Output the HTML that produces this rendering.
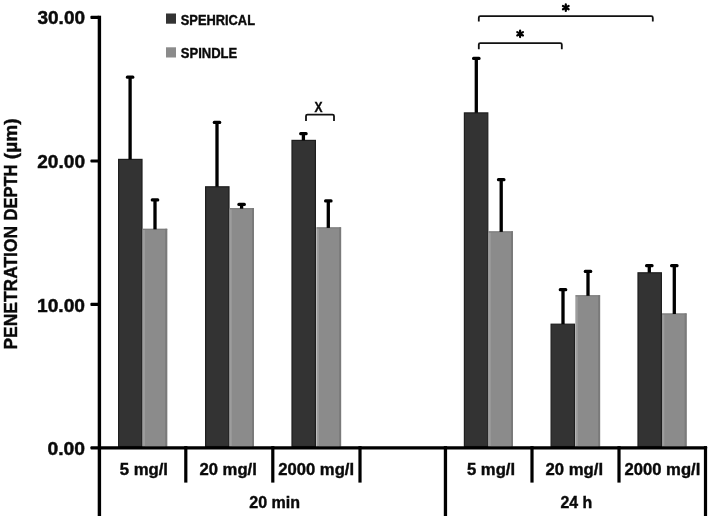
<!DOCTYPE html><html><head><meta charset="utf-8"><title>Penetration depth chart</title><style>html,body{margin:0;padding:0;background:#fff;width:709px;height:516px;overflow:hidden}svg{display:block;will-change:transform}text{font-family:"Liberation Sans",sans-serif;font-weight:bold;fill:#0a0a0a;stroke:#0a0a0a}</style></head><body>
<svg width="709" height="516" viewBox="0 0 709 516">
<rect width="709" height="516" fill="#fff"/>
<rect x="118.6" y="159.4" width="23.4" height="287.1" fill="#333333" stroke="#1e1e1e" stroke-width="1.2"/>
<rect x="142.6" y="228.8" width="24.6" height="217.7" fill="#8b8b8b"/>
<rect x="142.9" y="229.8" width="2" height="216.7" fill="#9d9d9d"/>
<rect x="165.2" y="228.8" width="2" height="217.7" fill="#7a7a7a"/>
<rect x="142.6" y="228.8" width="24.6" height="1" fill="#7a7a7a"/>
<rect x="205.6" y="186.8" width="23.4" height="259.7" fill="#333333" stroke="#1e1e1e" stroke-width="1.2"/>
<rect x="229.4" y="208.2" width="24.6" height="238.3" fill="#8b8b8b"/>
<rect x="229.7" y="209.2" width="2" height="237.3" fill="#9d9d9d"/>
<rect x="252.0" y="208.2" width="2" height="238.3" fill="#7a7a7a"/>
<rect x="229.4" y="208.2" width="24.6" height="1" fill="#7a7a7a"/>
<rect x="292.0" y="140.4" width="23.4" height="306.1" fill="#333333" stroke="#1e1e1e" stroke-width="1.2"/>
<rect x="316.5" y="227.4" width="24.6" height="219.1" fill="#8b8b8b"/>
<rect x="316.8" y="228.4" width="2" height="218.1" fill="#9d9d9d"/>
<rect x="339.1" y="227.4" width="2" height="219.1" fill="#7a7a7a"/>
<rect x="316.5" y="227.4" width="24.6" height="1" fill="#7a7a7a"/>
<rect x="464.4" y="112.9" width="23.4" height="333.6" fill="#333333" stroke="#1e1e1e" stroke-width="1.2"/>
<rect x="488.4" y="231.4" width="24.6" height="215.1" fill="#8b8b8b"/>
<rect x="488.7" y="232.4" width="2" height="214.1" fill="#9d9d9d"/>
<rect x="511.0" y="231.4" width="2" height="215.1" fill="#7a7a7a"/>
<rect x="488.4" y="231.4" width="24.6" height="1" fill="#7a7a7a"/>
<rect x="551.1" y="324.2" width="23.4" height="122.3" fill="#333333" stroke="#1e1e1e" stroke-width="1.2"/>
<rect x="575.5" y="295.3" width="24.6" height="151.2" fill="#8b8b8b"/>
<rect x="575.8" y="296.3" width="2" height="150.2" fill="#9d9d9d"/>
<rect x="598.1" y="295.3" width="2" height="151.2" fill="#7a7a7a"/>
<rect x="575.5" y="295.3" width="24.6" height="1" fill="#7a7a7a"/>
<rect x="638.0" y="272.8" width="23.4" height="173.7" fill="#333333" stroke="#1e1e1e" stroke-width="1.2"/>
<rect x="662.0" y="313.5" width="24.6" height="133.0" fill="#8b8b8b"/>
<rect x="662.3" y="314.5" width="2" height="132.0" fill="#9d9d9d"/>
<rect x="684.6" y="313.5" width="2" height="133.0" fill="#7a7a7a"/>
<rect x="662.0" y="313.5" width="24.6" height="1" fill="#7a7a7a"/>
<rect x="128.45" y="76.8" width="3.3" height="82.5" fill="#000"/>
<rect x="125.8" y="75.5" width="8.6" height="3.2" rx="1.5" fill="#000"/>
<rect x="153.35" y="199.6" width="3.3" height="29.7" fill="#000"/>
<rect x="150.7" y="198.3" width="8.6" height="3.2" rx="1.5" fill="#000"/>
<rect x="215.35" y="122.0" width="3.3" height="64.7" fill="#000"/>
<rect x="212.7" y="120.7" width="8.6" height="3.2" rx="1.5" fill="#000"/>
<rect x="239.95" y="204.0" width="3.3" height="4.7" fill="#000"/>
<rect x="237.3" y="202.7" width="8.6" height="3.2" rx="1.5" fill="#000"/>
<rect x="301.75" y="133.4" width="3.3" height="6.9" fill="#000"/>
<rect x="299.1" y="132.1" width="8.6" height="3.2" rx="1.5" fill="#000"/>
<rect x="326.65" y="200.5" width="3.3" height="27.4" fill="#000"/>
<rect x="324.0" y="199.2" width="8.6" height="3.2" rx="1.5" fill="#000"/>
<rect x="474.65" y="58.0" width="3.3" height="54.8" fill="#000"/>
<rect x="472.0" y="56.7" width="8.6" height="3.2" rx="1.5" fill="#000"/>
<rect x="499.55" y="179.4" width="3.3" height="52.5" fill="#000"/>
<rect x="496.9" y="178.1" width="8.6" height="3.2" rx="1.5" fill="#000"/>
<rect x="561.35" y="289.3" width="3.3" height="34.8" fill="#000"/>
<rect x="558.7" y="288.0" width="8.6" height="3.2" rx="1.5" fill="#000"/>
<rect x="586.35" y="271.0" width="3.3" height="24.8" fill="#000"/>
<rect x="583.7" y="269.7" width="8.6" height="3.2" rx="1.5" fill="#000"/>
<rect x="647.65" y="265.4" width="3.3" height="7.3" fill="#000"/>
<rect x="645.0" y="264.1" width="8.6" height="3.2" rx="1.5" fill="#000"/>
<rect x="672.65" y="265.4" width="3.3" height="48.6" fill="#000"/>
<rect x="670.0" y="264.1" width="8.6" height="3.2" rx="1.5" fill="#000"/>
<rect x="97.7" y="15.7" width="3.4" height="501" fill="#000"/>
<rect x="90.4" y="15.8" width="9" height="3.2" rx="1" fill="#000"/>
<rect x="90.4" y="159.4" width="9" height="3.2" rx="1" fill="#000"/>
<rect x="90.4" y="302.8" width="9" height="3.2" rx="1" fill="#000"/>
<rect x="90.4" y="446.2" width="616.7" height="3.4" rx="1" fill="#000"/>
<rect x="703.9" y="446.1" width="3.2" height="71" fill="#000"/>
<rect x="443.8" y="446.1" width="3.3" height="71" fill="#000"/>
<rect x="184.2" y="446.1" width="3.2" height="36.5" fill="#000"/>
<rect x="271.2" y="446.1" width="3.2" height="36.5" fill="#000"/>
<rect x="358.4" y="446.1" width="3.2" height="36.5" fill="#000"/>
<rect x="530.4" y="446.1" width="3.2" height="36.5" fill="#000"/>
<rect x="617.4" y="446.1" width="3.2" height="36.5" fill="#000"/>
<path d="M306.0 120.9 V116.1 Q306.0 114.6 307.5 114.6 H332.5 Q334.0 114.6 334.0 116.1 V120.9" fill="none" stroke="#111" stroke-width="1.8"/>
<path d="M478.8 49.2 V44.6 Q478.8 43.1 480.3 43.1 H560.3 Q561.8 43.1 561.8 44.6 V49.2" fill="none" stroke="#111" stroke-width="1.8"/>
<path d="M478.8 21.6 V17.7 Q478.8 16.2 480.3 16.2 H651.3 Q652.8 16.2 652.8 17.7 V21.6" fill="none" stroke="#111" stroke-width="1.8"/>
<path d="M520.1 30.50 V37.10 M517.24 32.15 L522.96 35.45 M517.24 35.45 L522.96 32.15" stroke="#000" stroke-width="2.2" stroke-linecap="round" fill="none"/>
<path d="M565.8 4.30 V10.90 M562.94 5.95 L568.66 9.25 M562.94 9.25 L568.66 5.95" stroke="#000" stroke-width="2.2" stroke-linecap="round" fill="none"/>
<rect x="166" y="13.5" width="10" height="10.2" fill="#333333"/>
<rect x="166" y="47.3" width="10" height="10.2" fill="#8b8b8b"/>
<text x="37.50" y="23.50" font-size="18.4" stroke-width="0.45" textLength="47.51" lengthAdjust="spacingAndGlyphs">30.00</text>
<text x="37.25" y="167.75" font-size="18.4" stroke-width="0.45" textLength="47.77" lengthAdjust="spacingAndGlyphs">20.00</text>
<text x="37.00" y="312.00" font-size="18.4" stroke-width="0.45" textLength="48.04" lengthAdjust="spacingAndGlyphs">10.00</text>
<text x="47.50" y="454.50" font-size="18.4" stroke-width="0.45" textLength="37.53" lengthAdjust="spacingAndGlyphs">0.00</text>
<text x="180.75" y="24.77" font-size="15.3" stroke-width="0.4" textLength="74.25" lengthAdjust="spacingAndGlyphs">SPEHRICAL</text>
<text x="180.75" y="57.77" font-size="15.3" stroke-width="0.4" textLength="56.50" lengthAdjust="spacingAndGlyphs">SPINDLE</text>
<text x="314.50" y="111.69" font-size="15.2" stroke-width="0.4" textLength="8.01" lengthAdjust="spacingAndGlyphs">X</text>
<text x="119.75" y="475.49" font-size="16.3" stroke-width="0.4" textLength="48.28" lengthAdjust="spacingAndGlyphs">5 mg/l</text>
<text x="199.50" y="475.49" font-size="16.3" stroke-width="0.4" textLength="57.29" lengthAdjust="spacingAndGlyphs">20 mg/l</text>
<text x="278.25" y="475.24" font-size="16.3" stroke-width="0.4" textLength="75.78" lengthAdjust="spacingAndGlyphs">2000 mg/l</text>
<text x="467.00" y="475.49" font-size="16.3" stroke-width="0.4" textLength="48.04" lengthAdjust="spacingAndGlyphs">5 mg/l</text>
<text x="545.50" y="475.49" font-size="16.3" stroke-width="0.4" textLength="57.53" lengthAdjust="spacingAndGlyphs">20 mg/l</text>
<text x="624.50" y="475.24" font-size="16.3" stroke-width="0.4" textLength="75.78" lengthAdjust="spacingAndGlyphs">2000 mg/l</text>
<text x="249.25" y="508.24" font-size="16.3" stroke-width="0.4" textLength="50.78" lengthAdjust="spacingAndGlyphs">20 min</text>
<text x="560.50" y="507.74" font-size="16.3" stroke-width="0.4" textLength="31.79" lengthAdjust="spacingAndGlyphs">24 h</text>
<text transform="translate(17.18 349.50) rotate(-90)" font-size="18.3" stroke-width="0.4" textLength="123.53" lengthAdjust="spacingAndGlyphs">PENETRATION</text>
<text transform="translate(16.93 220.50) rotate(-90)" font-size="18.3" stroke-width="0.4" textLength="56.07" lengthAdjust="spacingAndGlyphs">DEPTH</text>
<text transform="translate(16.68 159.25) rotate(-90)" font-size="18.3" stroke-width="0.4" textLength="40.81" lengthAdjust="spacingAndGlyphs">(µm)</text>
</svg></body></html>
